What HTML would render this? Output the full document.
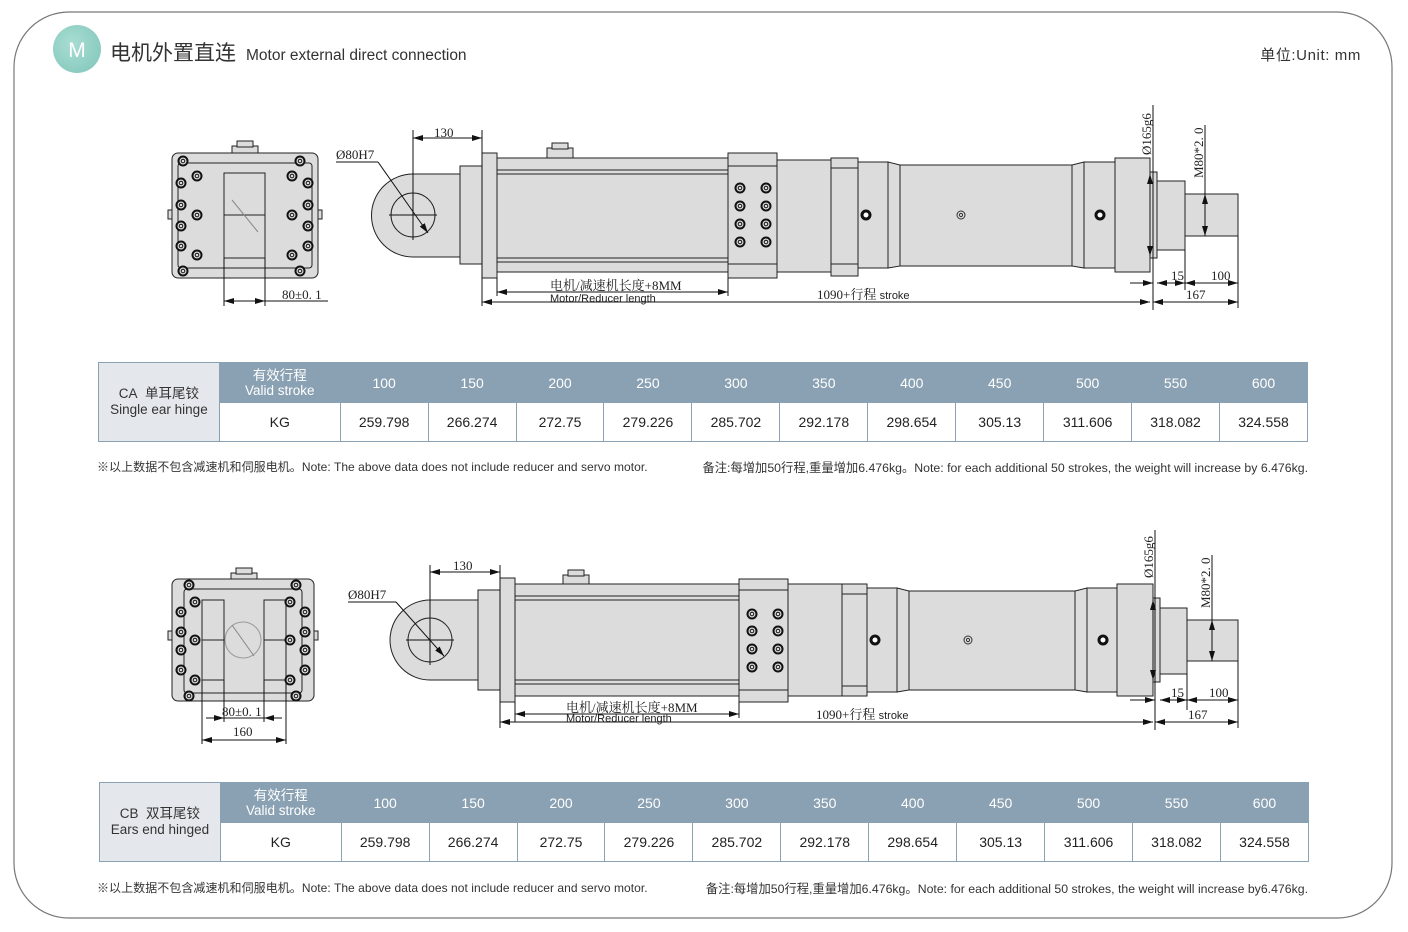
<!DOCTYPE html>
<html><head><meta charset="utf-8">
<style>
html,body{margin:0;padding:0;background:#fff;}
body{width:1408px;height:932px;position:relative;overflow:hidden;font-family:"Liberation Sans","Noto Sans CJK SC",sans-serif;}
.t{position:absolute;border-collapse:collapse;font-family:"Liberation Sans","Noto Sans CJK SC",sans-serif;}
.t td{border:1.5px solid #8aa1b3;text-align:center;padding:0;font-size:14px;color:#222;}
.t tr.h td{background:#8aa1b3;color:#fff;height:39px;font-size:14px;}
.t tr.v td{background:#fff;height:38px;}
.t tr.h td.f{background:#e4e7eb;color:#333;font-size:13.5px;line-height:16px;}
.t tr.h td.s{font-size:13.5px;line-height:15px;}
.note{position:absolute;font-size:12px;color:#333;white-space:nowrap;}
</style></head><body>
<svg width="1408" height="932" style="position:absolute;left:0;top:0" font-family="Liberation Serif, Noto Serif CJK SC, serif">
<defs>
<marker id="a" viewBox="0 0 10 6" refX="10" refY="3" markerWidth="10" markerHeight="6" orient="auto-start-reverse" markerUnits="userSpaceOnUse"><path d="M0,0 L10,3 L0,6z" fill="#111"/></marker>
<radialGradient id="g" cx="0.4" cy="0.4" r="0.7"><stop offset="0" stop-color="#a9ddd3"/><stop offset="1" stop-color="#86c9bd"/></radialGradient>
<g id="bolt"><circle r="4.5" fill="#ddd" stroke="#111" stroke-width="2"/><circle r="1.8" fill="none" stroke="#111" stroke-width="1"/></g>
</defs>
<rect x="14" y="12" width="1378" height="906" rx="55" fill="none" stroke="#777" stroke-width="1.2"/>
<circle cx="77" cy="49" r="24" fill="url(#g)"/>
<text x="77" y="57" font-family="Liberation Sans, sans-serif" font-size="21" fill="#fff" text-anchor="middle">M</text>
<text x="110" y="60" font-family="Liberation Sans, Noto Sans CJK SC, sans-serif" font-size="21" fill="#333">电机外置直连</text>
<text x="246" y="60" font-family="Liberation Sans, sans-serif" font-size="15.5" fill="#333">Motor external direct connection</text>
<text x="1361" y="60" font-family="Liberation Sans, Noto Sans CJK SC, sans-serif" font-size="15" letter-spacing="0.6" fill="#333" text-anchor="end">单位:Unit: mm</text>

<!-- ===== Drawing 1 end view ===== -->
<g stroke="#222" stroke-width="1" fill="#dcdcdc">
<rect x="232" y="146" width="26" height="8"/><rect x="237" y="141" width="16" height="6"/>
<rect x="168" y="210" width="5" height="9"/><rect x="317" y="210" width="5" height="9"/>
<rect x="172" y="153" width="146" height="125" rx="6"/>
<rect x="178" y="163" width="134" height="105" rx="3"/>
<rect x="224" y="173" width="41" height="85" fill="none"/>
<line x1="224" y1="215" x2="265" y2="215"/>
<line x1="232" y1="200" x2="258" y2="232" stroke="#888"/>
</g>
<g>
<use href="#bolt" x="183" y="161"/><use href="#bolt" x="300" y="161"/><use href="#bolt" x="183" y="271"/><use href="#bolt" x="300" y="271"/>
<use href="#bolt" x="197" y="176"/><use href="#bolt" x="197" y="215"/><use href="#bolt" x="197" y="255"/>
<use href="#bolt" x="292" y="176"/><use href="#bolt" x="292" y="215"/><use href="#bolt" x="292" y="255"/>
<use href="#bolt" x="181" y="183"/><use href="#bolt" x="181" y="205"/><use href="#bolt" x="181" y="226"/><use href="#bolt" x="181" y="246"/>
<use href="#bolt" x="308" y="183"/><use href="#bolt" x="308" y="205"/><use href="#bolt" x="308" y="226"/><use href="#bolt" x="308" y="246"/>
</g>
<g stroke="#111" stroke-width="1" fill="none">
<line x1="224" y1="258" x2="224" y2="306"/><line x1="265" y1="258" x2="265" y2="306"/>
<line x1="224" y1="301" x2="265" y2="301" marker-start="url(#a)" marker-end="url(#a)"/>
<line x1="265" y1="301" x2="328" y2="301"/>
</g>
<text x="282" y="299" font-size="13" fill="#222">80±0. 1</text>

<!-- ===== Drawing 1 side view ===== -->
<g stroke="#222" stroke-width="1" fill="#dcdcdc">
<path d="M460,174 L413,174 A41,41 0 0 0 413,257 L460,257 Z"/>
<rect x="460" y="166" width="22" height="98"/>
<rect x="482" y="153" width="15" height="125"/>
<rect x="547" y="148" width="26" height="10"/><rect x="552" y="143" width="16" height="6"/>
<rect x="497" y="158" width="231" height="114"/>
<line x1="497" y1="170" x2="728" y2="170"/><line x1="497" y1="262" x2="728" y2="262"/>
<line x1="497" y1="174" x2="728" y2="174"/><line x1="497" y1="258" x2="728" y2="258"/>
<rect x="728" y="153" width="49" height="125"/>
<line x1="728" y1="166" x2="777" y2="166"/><line x1="728" y1="264" x2="777" y2="264"/>
<rect x="777" y="160" width="54" height="112"/>
<rect x="831" y="158" width="27" height="118"/>
<line x1="831" y1="168" x2="858" y2="168"/><line x1="831" y1="264" x2="858" y2="264"/>
<rect x="858" y="162" width="30" height="106"/>
<path d="M888,162 L900,165 L900,266 L888,268 Z"/>
<rect x="900" y="165" width="172" height="101"/>
<path d="M1072,165 L1084,162 L1084,268 L1072,266 Z"/>
<rect x="1084" y="162" width="31" height="106"/>
<rect x="1115" y="158" width="35" height="114"/>
<rect x="1150" y="172" width="7" height="86"/>
<rect x="1157" y="181" width="28" height="69"/>
<rect x="1185" y="194" width="53" height="42"/>
<circle cx="413" cy="215" r="22" fill="none"/>
</g>
<g stroke="#111" fill="none" stroke-width="1">
<line x1="389" y1="215" x2="437" y2="215"/><line x1="413" y1="130" x2="413" y2="240"/>
<line x1="482" y1="130" x2="482" y2="306"/>
<line x1="413" y1="138" x2="482" y2="138" marker-start="url(#a)" marker-end="url(#a)"/>
<line x1="336" y1="162" x2="378" y2="162"/><line x1="378" y1="162" x2="428" y2="233" marker-end="url(#a)"/>
<line x1="497" y1="278" x2="497" y2="296"/><line x1="728" y1="278" x2="728" y2="296"/>
<line x1="497" y1="292" x2="728" y2="292" marker-start="url(#a)" marker-end="url(#a)"/>
<line x1="482" y1="302" x2="1150" y2="302" marker-start="url(#a)" marker-end="url(#a)"/>
<line x1="1153" y1="105" x2="1153" y2="310"/>
<line x1="1150" y1="174" x2="1150" y2="256" marker-start="url(#a)" marker-end="url(#a)"/>
<line x1="1205" y1="125" x2="1205" y2="236"/>
<line x1="1205" y1="194" x2="1205" y2="236" marker-start="url(#a)" marker-end="url(#a)"/>
<line x1="1185" y1="250" x2="1185" y2="290"/><line x1="1238" y1="236" x2="1238" y2="308"/>
<line x1="1130" y1="283" x2="1153" y2="283" marker-end="url(#a)"/>
<line x1="1157" y1="283" x2="1185" y2="283" marker-start="url(#a)" marker-end="url(#a)"/>
<line x1="1185" y1="283" x2="1238" y2="283" marker-start="url(#a)" marker-end="url(#a)"/>
<line x1="1153" y1="302" x2="1238" y2="302" marker-start="url(#a)" marker-end="url(#a)"/>
</g>
<g>
<use href="#bolt" x="740" y="188"/><use href="#bolt" x="766" y="188"/><use href="#bolt" x="740" y="206"/><use href="#bolt" x="766" y="206"/>
<use href="#bolt" x="740" y="224"/><use href="#bolt" x="766" y="224"/><use href="#bolt" x="740" y="242"/><use href="#bolt" x="766" y="242"/>
<circle cx="866" cy="215" r="4" fill="#fff" stroke="#111" stroke-width="3"/>
<circle cx="1100" cy="215" r="4" fill="#fff" stroke="#111" stroke-width="3"/>
<circle cx="961" cy="215" r="4" fill="none" stroke="#333"/><circle cx="961" cy="215" r="1.6" fill="none" stroke="#333"/>
</g>
<g font-size="13" fill="#222">
<text x="434" y="137">130</text>
<text x="336" y="159">Ø80H7</text>
<text x="550" y="290">电机/减速机长度+8MM</text>
<text x="550" y="302" font-family="Liberation Sans, sans-serif" font-size="11">Motor/Reducer length</text>
<text x="817" y="299">1090+行程 <tspan font-family="Liberation Sans, sans-serif" font-size="11">stroke</tspan></text>
<text x="1171" y="280">15</text><text x="1211" y="280">100</text><text x="1186" y="299">167</text>
<text transform="translate(1151,155) rotate(-90)">Ø165g6</text>
<text transform="translate(1203,178) rotate(-90)">M80*2. 0</text>
</g>

<!-- ===== Drawing 2 end view ===== -->
<g stroke="#222" stroke-width="1" fill="#dcdcdc">
<rect x="231" y="573" width="26" height="8"/><rect x="236" y="568" width="16" height="6"/>
<rect x="168" y="631" width="5" height="9"/><rect x="313" y="631" width="5" height="9"/>
<rect x="172" y="579" width="142" height="122" rx="6"/>
<rect x="184" y="589" width="118" height="104" rx="3"/>
<rect x="202" y="600" width="22" height="80" fill="none"/><rect x="264" y="600" width="22" height="80" fill="none"/>
<line x1="202" y1="640" x2="224" y2="640"/><line x1="264" y1="640" x2="286" y2="640"/>
<circle cx="243" cy="640" r="18" fill="none" stroke="#999"/>
<line x1="232" y1="625" x2="254" y2="656" stroke="#888"/>
</g>
<g>
<use href="#bolt" x="189" y="585"/><use href="#bolt" x="296" y="585"/><use href="#bolt" x="189" y="696"/><use href="#bolt" x="296" y="696"/>
<use href="#bolt" x="195" y="602"/><use href="#bolt" x="195" y="640"/><use href="#bolt" x="195" y="680"/>
<use href="#bolt" x="290" y="602"/><use href="#bolt" x="290" y="640"/><use href="#bolt" x="290" y="680"/>
<use href="#bolt" x="181" y="612"/><use href="#bolt" x="181" y="632"/><use href="#bolt" x="181" y="650"/><use href="#bolt" x="181" y="670"/>
<use href="#bolt" x="305" y="612"/><use href="#bolt" x="305" y="632"/><use href="#bolt" x="305" y="650"/><use href="#bolt" x="305" y="670"/>
</g>
<g stroke="#111" stroke-width="1" fill="none">
<line x1="202" y1="680" x2="202" y2="744"/><line x1="286" y1="680" x2="286" y2="744"/>
<line x1="224" y1="680" x2="224" y2="722"/><line x1="264" y1="680" x2="264" y2="722"/>
<line x1="206" y1="718" x2="224" y2="718" marker-end="url(#a)"/><line x1="264" y1="718" x2="282" y2="718" marker-start="url(#a)"/>
<line x1="224" y1="718" x2="264" y2="718"/>
<line x1="202" y1="740" x2="286" y2="740" marker-start="url(#a)" marker-end="url(#a)"/>
</g>
<text x="222" y="716" font-size="13" fill="#222">80±0. 1</text>
<text x="233" y="736" font-size="13" fill="#222">160</text>

<!-- ===== Drawing 2 side view ===== -->
<g stroke="#222" stroke-width="1" fill="#dcdcdc">
<path d="M478,600 L430,600 A40,40 0 0 0 430,680 L478,680 Z"/>
<rect x="478" y="590" width="22" height="100"/>
<rect x="500" y="578" width="15" height="124"/>
<rect x="563" y="575" width="26" height="10"/><rect x="568" y="570" width="16" height="6"/>
<rect x="515" y="584" width="224" height="112"/>
<line x1="515" y1="596" x2="739" y2="596"/><line x1="515" y1="684" x2="739" y2="684"/>
<line x1="515" y1="600" x2="739" y2="600"/><line x1="515" y1="680" x2="739" y2="680"/>
<rect x="739" y="579" width="49" height="123"/>
<line x1="739" y1="590" x2="788" y2="590"/><line x1="739" y1="690" x2="788" y2="690"/>
<rect x="788" y="584" width="54" height="112"/>
<rect x="842" y="584" width="25" height="112"/>
<line x1="842" y1="594" x2="867" y2="594"/><line x1="842" y1="686" x2="867" y2="686"/>
<rect x="867" y="588" width="30" height="104"/>
<path d="M897,588 L909,591 L909,690 L897,692 Z"/>
<rect x="909" y="591" width="166" height="99"/>
<path d="M1075,591 L1087,588 L1087,692 L1075,690 Z"/>
<rect x="1087" y="588" width="30" height="104"/>
<rect x="1117" y="584" width="36" height="112"/>
<rect x="1153" y="598" width="7" height="84"/>
<rect x="1160" y="608" width="27" height="66"/>
<rect x="1187" y="620" width="51" height="41"/>
<circle cx="430" cy="640" r="22" fill="none"/>
</g>
<g stroke="#111" fill="none" stroke-width="1">
<line x1="406" y1="640" x2="454" y2="640"/><line x1="430" y1="565" x2="430" y2="665"/>
<line x1="500" y1="565" x2="500" y2="728"/>
<line x1="430" y1="572" x2="500" y2="572" marker-start="url(#a)" marker-end="url(#a)"/>
<line x1="348" y1="602" x2="396" y2="602"/><line x1="396" y1="602" x2="444" y2="656" marker-end="url(#a)"/>
<line x1="515" y1="702" x2="515" y2="722"/><line x1="739" y1="702" x2="739" y2="718"/>
<line x1="515" y1="714" x2="739" y2="714" marker-start="url(#a)" marker-end="url(#a)"/>
<line x1="500" y1="722" x2="1153" y2="722" marker-start="url(#a)" marker-end="url(#a)"/>
<line x1="1155" y1="530" x2="1155" y2="730"/>
<line x1="1153" y1="600" x2="1153" y2="680" marker-start="url(#a)" marker-end="url(#a)"/>
<line x1="1212" y1="555" x2="1212" y2="661"/>
<line x1="1212" y1="620" x2="1212" y2="661" marker-start="url(#a)" marker-end="url(#a)"/>
<line x1="1187" y1="674" x2="1187" y2="710"/><line x1="1238" y1="661" x2="1238" y2="728"/>
<line x1="1130" y1="700" x2="1155" y2="700" marker-end="url(#a)"/>
<line x1="1160" y1="700" x2="1187" y2="700" marker-start="url(#a)" marker-end="url(#a)"/>
<line x1="1187" y1="700" x2="1238" y2="700" marker-start="url(#a)" marker-end="url(#a)"/>
<line x1="1155" y1="722" x2="1238" y2="722" marker-start="url(#a)" marker-end="url(#a)"/>
</g>
<g>
<use href="#bolt" x="752" y="614"/><use href="#bolt" x="778" y="614"/><use href="#bolt" x="752" y="631"/><use href="#bolt" x="778" y="631"/>
<use href="#bolt" x="752" y="649"/><use href="#bolt" x="778" y="649"/><use href="#bolt" x="752" y="667"/><use href="#bolt" x="778" y="667"/>
<circle cx="875" cy="640" r="4" fill="#fff" stroke="#111" stroke-width="3"/>
<circle cx="1103" cy="640" r="4" fill="#fff" stroke="#111" stroke-width="3"/>
<circle cx="968" cy="640" r="4" fill="none" stroke="#333"/><circle cx="968" cy="640" r="1.6" fill="none" stroke="#333"/>
</g>
<g font-size="13" fill="#222">
<text x="453" y="570">130</text>
<text x="348" y="599">Ø80H7</text>
<text x="566" y="712">电机/减速机长度+8MM</text>
<text x="566" y="722" font-family="Liberation Sans, sans-serif" font-size="11">Motor/Reducer length</text>
<text x="816" y="719">1090+行程 <tspan font-family="Liberation Sans, sans-serif" font-size="11">stroke</tspan></text>
<text x="1171" y="697">15</text><text x="1209" y="697">100</text><text x="1188" y="719">167</text>
<text transform="translate(1153,578) rotate(-90)">Ø165g6</text>
<text transform="translate(1210,608) rotate(-90)">M80*2. 0</text>
</g>
</svg>

<table class="t" style="left:98px;top:362px;width:1210px;">
<colgroup><col style="width:121px"><col style="width:121px"><col span="11" style="width:88px"></colgroup>
<tr class="h"><td class="f" rowspan="2">CA&nbsp; 单耳尾铰<br>Single ear hinge</td><td class="s">有效行程<br>Valid stroke</td><td>100</td><td>150</td><td>200</td><td>250</td><td>300</td><td>350</td><td>400</td><td>450</td><td>500</td><td>550</td><td>600</td></tr>
<tr class="v"><td>KG</td><td>259.798</td><td>266.274</td><td>272.75</td><td>279.226</td><td>285.702</td><td>292.178</td><td>298.654</td><td>305.13</td><td>311.606</td><td>318.082</td><td>324.558</td></tr>
</table>
<div class="note" style="left:97px;top:458px;letter-spacing:0.05px;">※以上数据不包含减速机和伺服电机。Note: The above data does not include reducer and servo motor.</div>
<div class="note" style="right:100px;top:458px;font-size:12.3px;">备注:每增加50行程,重量增加6.476kg。Note: for each additional 50 strokes, the weight will increase by 6.476kg.</div>

<table class="t" style="left:99px;top:782px;width:1210px;">
<colgroup><col style="width:121px"><col style="width:121px"><col span="11" style="width:88px"></colgroup>
<tr class="h"><td class="f" rowspan="2">CB&nbsp; 双耳尾铰<br>Ears end hinged</td><td class="s">有效行程<br>Valid stroke</td><td>100</td><td>150</td><td>200</td><td>250</td><td>300</td><td>350</td><td>400</td><td>450</td><td>500</td><td>550</td><td>600</td></tr>
<tr class="v"><td>KG</td><td>259.798</td><td>266.274</td><td>272.75</td><td>279.226</td><td>285.702</td><td>292.178</td><td>298.654</td><td>305.13</td><td>311.606</td><td>318.082</td><td>324.558</td></tr>
</table>
<div class="note" style="left:97px;top:879px;letter-spacing:0.05px;">※以上数据不包含减速机和伺服电机。Note: The above data does not include reducer and servo motor.</div>
<div class="note" style="right:100px;top:879px;font-size:12.3px;">备注:每增加50行程,重量增加6.476kg。Note: for each additional 50 strokes, the weight will increase by6.476kg.</div>
</body></html>
